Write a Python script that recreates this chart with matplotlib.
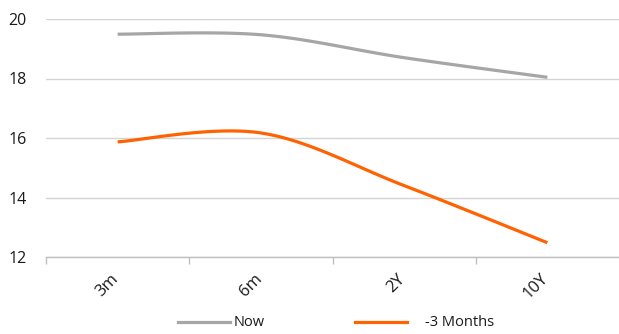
import numpy as np
import matplotlib
matplotlib.use("Agg")
import matplotlib.pyplot as plt
from matplotlib.lines import Line2D

# Curve data
tenors = ["3m", "6m", "2Y", "10Y"]
now_vals = [19.49, 19.47, 18.70, 18.04]
prev_vals = [15.87, 16.17, 14.40, 12.48]
series_names = ["Now", "-3 Months"]

GRAY = "#a6a6a6"
ORANGE = "#ff6200"
TEXT = "#1a1a1a"

plt.rcParams["font.family"] = ["Open Sans", "DejaVu Sans"]


def smooth(xs, ys, n=40):
    """Cubic Bezier smoothing through each point (Catmull-Rom style)."""
    xs = np.asarray(xs, float)
    ys = np.asarray(ys, float)
    px = np.concatenate([[xs[0]], xs, [xs[-1]]])
    py = np.concatenate([[ys[0]], ys, [ys[-1]]])
    out_x, out_y = [], []
    t = np.linspace(0, 1, n)
    for i in range(1, len(xs)):
        p0 = np.array([px[i], py[i]])
        p3 = np.array([px[i + 1], py[i + 1]])
        c1 = p0 + (np.array([px[i + 1], py[i + 1]]) - np.array([px[i - 1], py[i - 1]])) / 6
        c2 = p3 - (np.array([px[i + 2], py[i + 2]]) - np.array([px[i], py[i]])) / 6
        b = ((1 - t) ** 3)[:, None] * p0 + (3 * (1 - t) ** 2 * t)[:, None] * c1 \
            + (3 * (1 - t) * t ** 2)[:, None] * c2 + (t ** 3)[:, None] * p3
        out_x.extend(b[:, 0])
        out_y.extend(b[:, 1])
    return np.array(out_x), np.array(out_y)


fig = plt.figure(figsize=(6.19, 3.34), dpi=100)
ax = fig.add_axes([46 / 619, 1 - 257 / 334, 1 - 46 / 619, (257 - 19) / 334])

x = np.arange(len(tenors))
sx, sy = smooth(x, now_vals)
ax.plot(sx, sy, color=GRAY, lw=2.3, solid_capstyle="butt", zorder=3)
sx, sy = smooth(x, prev_vals)
ax.plot(sx, sy, color=ORANGE, lw=2.3, solid_capstyle="butt", zorder=3)

ax.set_xlim(-0.5, len(tenors) - 0.5)
ax.set_ylim(12, 20)
ax.set_yticks([12, 14, 16, 18, 20])
ax.yaxis.grid(True, color="#d4d4d4", lw=1.0)
ax.set_axisbelow(True)

for s in ["top", "right", "left"]:
    ax.spines[s].set_visible(False)
ax.spines["bottom"].set_color("#bfbfbf")
ax.spines["bottom"].set_linewidth(1.0)

ax.set_xticks(x)
ax.set_xticklabels(tenors, rotation=45, ha="right", fontsize=12, color=TEXT)
ax.set_xticks(np.arange(-0.5, len(tenors) - 0.5, 1), minor=True)
ax.tick_params(axis="x", which="major", length=0, pad=10)
ax.tick_params(axis="x", which="minor", length=5, width=1.0, color="#bfbfbf")
ax.tick_params(axis="y", length=0, pad=14, labelsize=11.5, labelcolor=TEXT)
# nudge rotated labels so their top-right corner sits just right of the tick
import matplotlib.transforms as mtransforms
offset = mtransforms.ScaledTranslation(3 / 72, 0, fig.dpi_scale_trans)
for lab in ax.get_xticklabels():
    lab.set_transform(lab.get_transform() + offset)

# legend row below the axis
leg_y = 1 - 322 / 334
keys = [(178, 230, 234, GRAY), (355, 407, 425, ORANGE)]
for (x0, x1, tx, col), name in zip(keys, series_names):
    fig.add_artist(Line2D([x0 / 619, x1 / 619], [leg_y, leg_y], color=col, lw=2.3,
                          transform=fig.transFigure))
    fig.text(tx / 619, leg_y, name, ha="left", va="center", fontsize=10.5, color=TEXT)

fig.savefig("out.png", dpi=100)
